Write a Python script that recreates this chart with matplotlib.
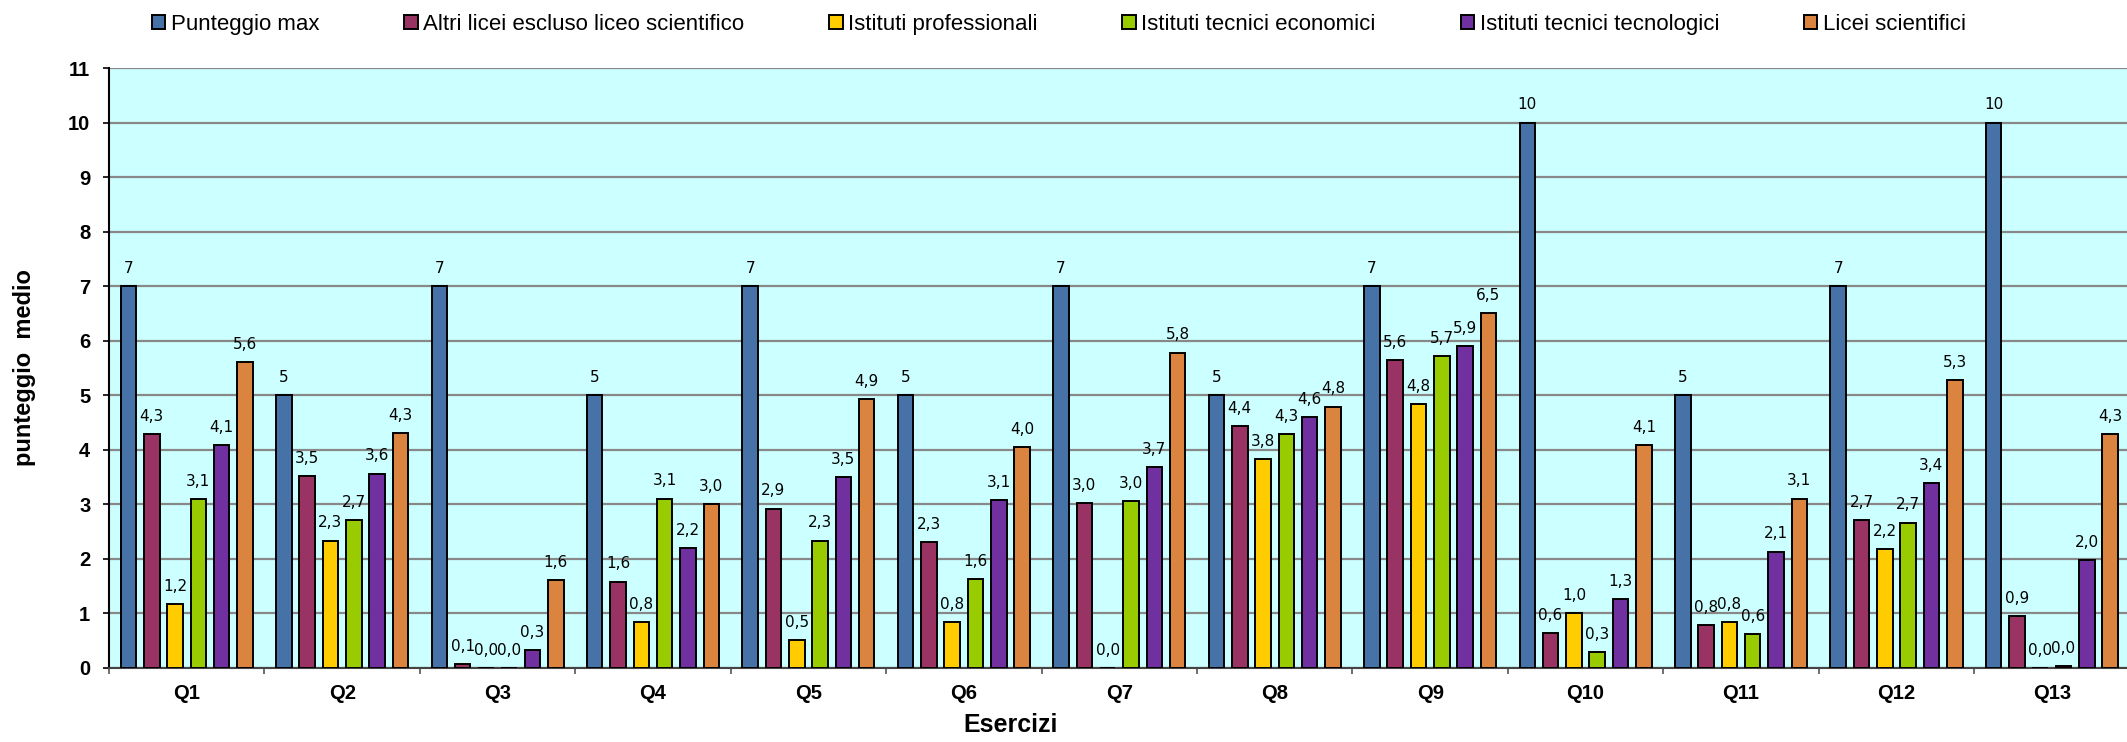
import matplotlib
matplotlib.use("Agg")
import matplotlib.pyplot as plt
from matplotlib.patches import Patch
import numpy as np

# data
esercizi = ['Q1', 'Q2', 'Q3', 'Q4', 'Q5', 'Q6', 'Q7', 'Q8', 'Q9', 'Q10', 'Q11', 'Q12', 'Q13']
punteggio_max = [7, 5, 7, 5, 7, 5, 7, 5, 7, 10, 5, 7, 10]
altri_licei = [4.28, 3.52, 0.06, 1.58, 2.92, 2.30, 3.02, 4.43, 5.64, 0.64, 0.78, 2.71, 0.94]
ist_professionali = [1.17, 2.33, 0.0, 0.84, 0.50, 0.84, 0.0, 3.83, 4.83, 1.00, 0.84, 2.17, 0.0]
ist_economici = [3.09, 2.71, 0.0, 3.10, 2.33, 1.62, 3.05, 4.28, 5.72, 0.28, 0.62, 2.66, 0.03]
ist_tecnologici = [4.08, 3.56, 0.32, 2.20, 3.50, 3.08, 3.68, 4.60, 5.90, 1.26, 2.13, 3.39, 1.97]
licei_scientifici = [5.60, 4.30, 1.60, 3.00, 4.93, 4.04, 5.78, 4.79, 6.50, 4.08, 3.10, 5.27, 4.29]

serie = [
    ('Punteggio max', punteggio_max, '#4672A8'),
    ('Altri licei escluso liceo scientifico', altri_licei, '#993363'),
    ('Istituti professionali', ist_professionali, '#FFCC00'),
    ('Istituti tecnici economici', ist_economici, '#99CC00'),
    ('Istituti tecnici tecnologici', ist_tecnologici, '#7030A0'),
    ('Licei scientifici', licei_scientifici, '#DB843F'),
]

plt.rcParams['font.family'] = ['Liberation Sans', 'DejaVu Sans']

W, H = 2127, 742
fig = plt.figure(figsize=(W / 100, H / 100), dpi=100)
ax = fig.add_axes([109 / W, 1 - 667.7 / H, (2129.6 - 109) / W, (667.7 - 68) / H])
ax.set_facecolor('#CCFFFF')

pos = np.arange(len(esercizi))
step = 0.15
width = 0.10
for i, (nome, vals, col) in enumerate(serie):
    x = pos + (i - 2.5) * step
    bars = ax.bar(x, vals, width, color=col, edgecolor='black', linewidth=1.4, zorder=3)
    for b, v in zip(bars, vals):
        txt = '%d' % v if i == 0 else ('%.1f' % v).replace('.', ',')
        ax.annotate(txt, (b.get_x() + b.get_width() / 2, v), xytext=(0, 9.5),
                    textcoords='offset points', ha='center', va='baseline',
                    fontsize=11, family='DejaVu Sans', zorder=4)

ax.set_xlim(-0.5, len(esercizi) - 0.5)
ax.set_ylim(0, 11)
ax.set_yticks(range(0, 12))
ax.yaxis.grid(True, color='#888888', linewidth=1.6)
ax.set_axisbelow(True)

ax.set_xticks(pos)
ax.set_xticklabels(esercizi, fontsize=14.5, fontweight='bold')
ax.set_xticks(np.arange(-0.5, len(esercizi)), minor=True)
ax.tick_params(axis='x', which='major', length=0, pad=12)
ax.tick_params(axis='x', which='minor', length=4, width=1.2, color='#555555')
ax.tick_params(axis='y', length=4.5, width=1.2, pad=9, labelsize=14.5)
for lab in ax.get_yticklabels():
    lab.set_fontweight('bold')

for s in ['top', 'right']:
    ax.spines[s].set_visible(False)
ax.spines['left'].set_linewidth(1.5)
ax.spines['bottom'].set_linewidth(1.5)
ax.spines['bottom'].set_color('#444444')

ax.set_ylabel('punteggio  medio', fontsize=17, fontweight='bold', va='center')
ax.yaxis.set_label_coords(-0.042, 0.5)
ax.set_xlabel('Esercizi', fontsize=18, fontweight='bold', va='center')
ax.xaxis.set_label_coords(0.446, -0.095)

handles = [Patch(facecolor=c, edgecolor='black', linewidth=1.4, label=n) for n, _, c in serie]
fig.legend(handles=handles, loc='center left', bbox_to_anchor=(152 / W, 1 - 24.5 / H),
           ncol=6, frameon=False, fontsize=16, handlelength=0.6, handleheight=0.6,
           handletextpad=0.25, columnspacing=3.82, borderpad=0, borderaxespad=0)

fig.savefig('out.png', dpi=100)
